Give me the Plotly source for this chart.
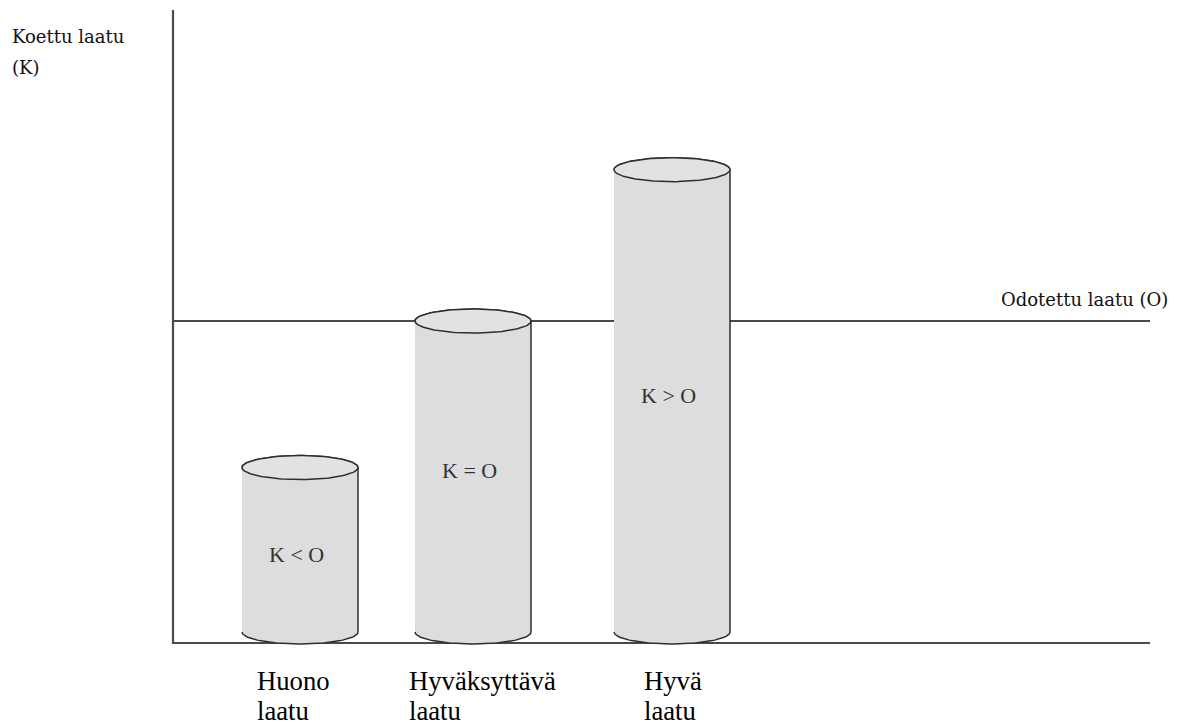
import numpy as np
import plotly.graph_objects as go

# ---- data ----
label_line1 = ["Huono", "Hyväksyttävä", "Hyvä"]
label_line2 = ["laatu", "laatu", "laatu"]
relations = ["K < O", "K = O", "K > O"]
koettu = [0.545, 1.0, 1.47]          # experienced quality (K)
odotettu = 1.0                       # expected quality (O)

# ---- layout constants ----
W, H = 1184, 727                     # reference canvas
OFF = 8                              # page body margin
Y0_PX, UNIT_PX = 643, 322            # pixel row of value 0, pixels per unit
def py(p):                           # reference pixel row -> data value
    return (Y0_PX - p) / UNIT_PX

x_centers = [300, 473, 672]
half_w = 58
ry = 12 / UNIT_PX
base = py(632)
axis_x = 173
axis_right = 1150
axis_top = py(10)

fill = "#dddddd"
edge = "#2e2e2e"
axis_col = "#4a4a4a"

fig = go.Figure()

# expected-quality line (behind cylinders)
fig.add_trace(go.Scatter(x=[axis_x, axis_right], y=[odotettu, odotettu], mode="lines",
                         line=dict(color=axis_col, width=2), hoverinfo="skip"))
# axes
fig.add_trace(go.Scatter(x=[axis_x, axis_x, axis_right], y=[axis_top, 0, 0], mode="lines",
                         line=dict(color=axis_col, width=2.2), hoverinfo="skip"))

t_lo = np.linspace(np.pi, 2 * np.pi, 60)   # lower half
t_up = np.linspace(0, np.pi, 60)           # upper half
t_full = np.linspace(0, 2 * np.pi, 121)

for xc, top in zip(x_centers, koettu):
    bx = np.concatenate([[xc - half_w], xc + half_w * np.cos(t_lo), [xc + half_w],
                         xc + half_w * np.cos(t_up)])
    by = np.concatenate([[base], base + ry * np.sin(t_lo), [top],
                         top + ry * np.sin(t_up)])
    fig.add_trace(go.Scatter(x=bx, y=by, mode="lines", fill="toself", fillcolor=fill,
                             line=dict(color=edge, width=1.5), hoverinfo="skip"))
    fig.add_trace(go.Scatter(x=xc + half_w * np.cos(t_full), y=top + ry * np.sin(t_full),
                             mode="lines", fill="toself", fillcolor="#e2e2e2",
                             line=dict(color=edge, width=1.5), hoverinfo="skip"))

annotations = []
rel_pos = [(296, 554), (469, 470), (668, 395)]
for (x, p), txt in zip(rel_pos, relations):
    annotations.append(dict(x=x, y=py(p), xref="x", yref="y", text=txt, showarrow=False,
                            font=dict(family="Liberation Serif", size=22, color="#333"),
                            xanchor="center", yanchor="middle"))

label_x = [255, 407, 642]
serif_lbl = dict(family="Liberation Serif", size=26.7, color="#000")
for x, l1, l2 in zip(label_x, label_line1, label_line2):
    annotations.append(dict(x=x, y=py(681), xref="x", yref="y", text=l1, showarrow=False,
                            font=serif_lbl, xanchor="left", yanchor="middle"))
    annotations.append(dict(x=x, y=py(711), xref="x", yref="y", text=l2, showarrow=False,
                            font=serif_lbl, xanchor="left", yanchor="middle"))

small = dict(family="DejaVu Serif", size=18, color="#111")
annotations.append(dict(x=10, y=py(36), xref="x", yref="y", text="Koettu laatu", showarrow=False,
                        font=small, xanchor="left", yanchor="middle"))
annotations.append(dict(x=10, y=py(67), xref="x", yref="y", text="(K)", showarrow=False,
                        font=small, xanchor="left", yanchor="middle"))
annotations.append(dict(x=999, y=py(299), xref="x", yref="y", text="Odotettu laatu (O)",
                        showarrow=False, font=small, xanchor="left", yanchor="middle"))

fig.update_layout(
    width=W - OFF, height=H - OFF, margin=dict(l=0, r=0, t=0, b=0),
    paper_bgcolor="white", plot_bgcolor="white", showlegend=False,
    xaxis=dict(range=[OFF, W], visible=False, fixedrange=True),
    yaxis=dict(range=[py(H), py(OFF)], visible=False, fixedrange=True),
    annotations=annotations,
)

fig.write_html("out.html")
